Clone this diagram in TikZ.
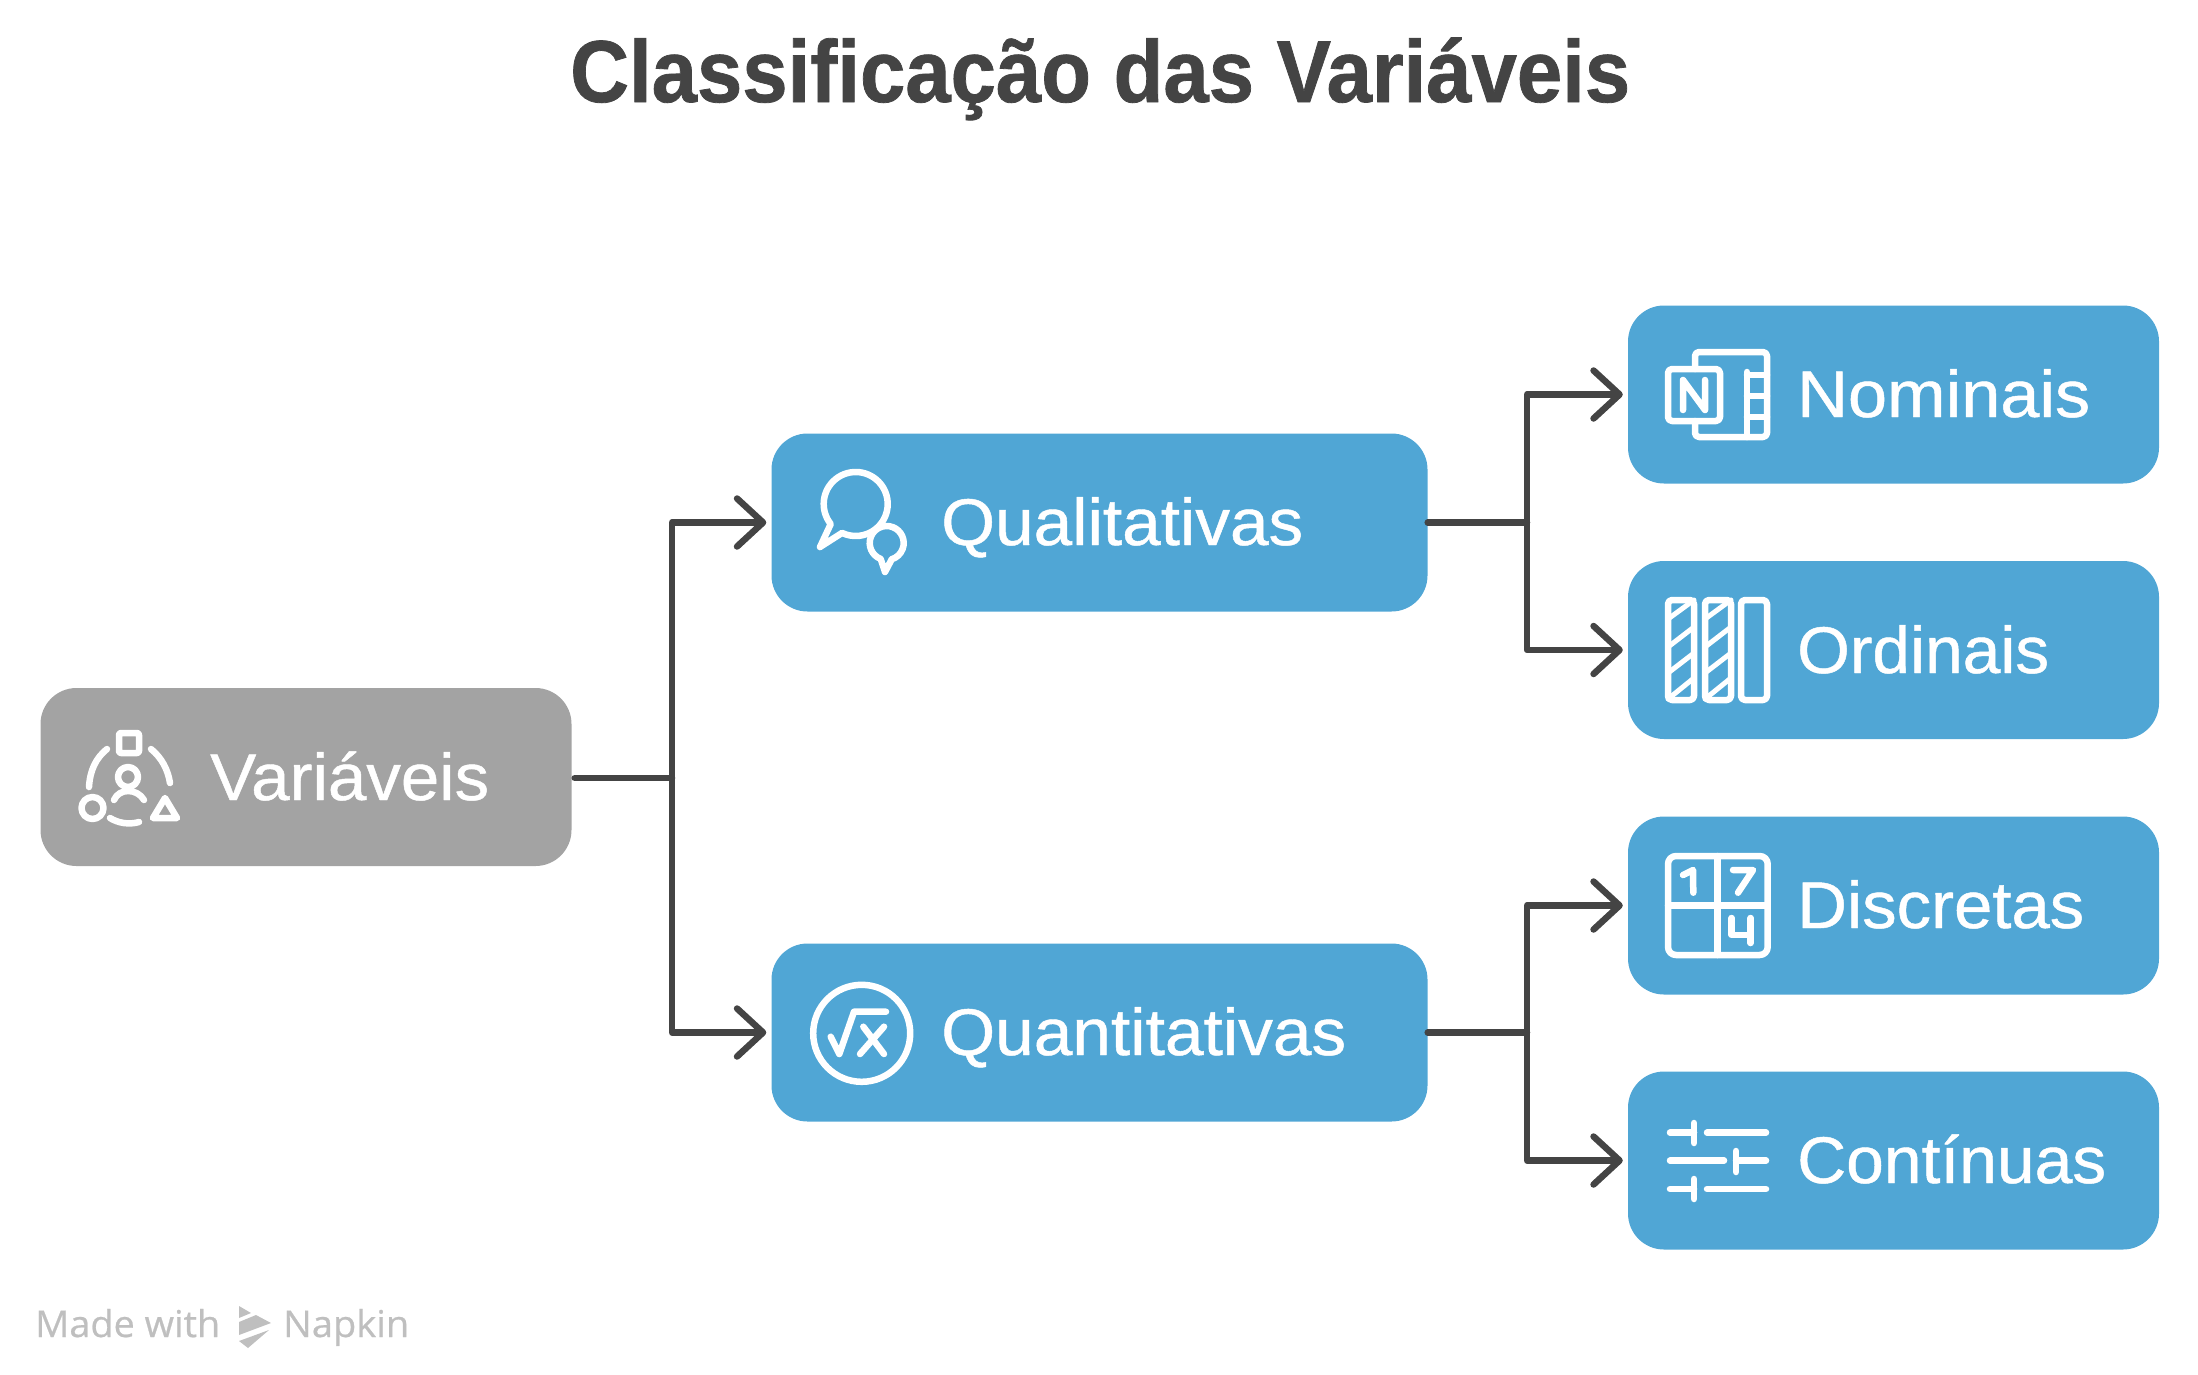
\documentclass[tikz,border=0pt]{standalone}
\usepackage{fontspec}
\usepackage{graphicx}
\usetikzlibrary{arrows.meta}
\setmainfont{Liberation Sans}
\newfontfamily\lblfont[FakeBold=0.7]{Liberation Sans}
\newfontfamily\titlefont[BoldFeatures={FakeBold=0.9}]{Liberation Sans}
\newfontfamily\footfont[FakeBold=0.6]{Open Sans}
\definecolor{boxblue}{HTML}{50A6D5}
\definecolor{boxgray}{HTML}{A3A3A3}
\definecolor{linecol}{HTML}{444444}
\definecolor{titlecol}{HTML}{444444}
\definecolor{footcol}{HTML}{BFBFBF}
\tikzset{
  boxnode/.style={draw=none,fill=#1,rounded corners=36pt,inner sep=0pt,minimum height=178pt},
  lbl/.style={anchor=base west,inner sep=0pt,text=white,font=\lblfont\fontsize{66}{70}\selectfont},
  conn/.style={draw=linecol,line width=6.5pt,line join=round,line cap=round},
  arr/.style={conn,-{Straight Barb[length=26pt,width=48pt,round]},shorten >=5pt},
  ico/.style={draw=white,line width=6.5pt,line cap=round,line join=round},
  foot/.style={anchor=base west,inner sep=0pt,text=footcol,font=\footfont\fontsize{37}{40}\selectfont}
}
\newcommand{\fitw}[2]{\resizebox{#1pt}{\height}{#2}}
\begin{document}
\begin{tikzpicture}[yscale=-1,x=1pt,y=1pt]
\useasboundingbox (0,0) rectangle (2198,1374);
% boxes
\node[boxnode=boxgray,minimum width=531pt] (var) at (306,777) {};
\node[boxnode=boxblue,minimum width=656pt] (qual) at (1099.5,522.5) {};
\node[boxnode=boxblue,minimum width=656pt] (quant) at (1099.5,1032.5) {};
\node[boxnode=boxblue,minimum width=531pt] (nom) at (1893.5,394.5) {};
\node[boxnode=boxblue,minimum width=531pt] (ord) at (1893.5,650) {};
\node[boxnode=boxblue,minimum width=531pt] (dis) at (1893.5,905.5) {};
\node[boxnode=boxblue,minimum width=531pt] (con) at (1893.5,1160.5) {};
% labels
\node[lbl] (tvar) at (210,800) {\fitw{279}{Variáveis}};
\node[lbl] (tqual) at (941,545) {\fitw{362}{Qualitativas}};
\node[lbl] (tquant) at (941,1055) {\fitw{405}{Quantitativas}};
\node[lbl] (tnom) at (1797,417) {\fitw{293}{Nominais}};
\node[lbl] (tord) at (1797,673) {\fitw{252}{Ordinais}};
\node[lbl] (tdis) at (1797,928) {\fitw{287}{Discretas}};
\node[lbl] (tcon) at (1797,1183) {\fitw{309}{Contínuas}};
% title
\node[anchor=base west,inner sep=0pt,text=titlecol,font=\titlefont\bfseries\fontsize{88}{92}\selectfont] (title) at (570,102) {\fitw{1060}{Classificação das Variáveis}};
% footer
\node[foot] (made) at (35,1337) {\fitw{185}{Made with}};
\node[foot] (nap) at (283,1337) {\fitw{126}{Napkin}};
\fill[footcol] (239,1306) -- (251,1313) -- (239,1318) -- cycle;
\fill[footcol] (239,1322) -- (256,1315) -- (271,1323) -- (239,1335) -- cycle;
\fill[footcol] (239,1341) -- (269,1330) -- (248,1348) -- cycle;
% connectors
\coordinate (j1) at (672,778);
\coordinate (j2) at (1527,522.5);
\coordinate (j3) at (1527,1032.5);
\draw[conn] (var.east) ++(3,1) -- (j1);
\draw[arr] (j1) |- (qual.west);
\draw[arr] (j1) |- (quant.west);
\draw[conn] (qual.east) -- (j2);
\draw[arr] (j2) |- (nom.west);
\draw[arr] (j2) |- (ord.west);
\draw[conn] (quant.east) -- (j3);
\draw[arr] (j3) |- (dis.west);
\draw[arr] (j3) |- (con.west);
% icon: variaveis
\draw[ico,rounded corners=2pt] (119,733) rectangle (139,753);
\draw[ico] (128,777) circle[radius=10pt];
\draw[ico] (114,800) .. controls (119,788) and (137,788) .. (144,800);
\draw[ico] (107,749) .. controls (96,758) and (90,770) .. (89,787);
\draw[ico] (151,749) .. controls (162,758) and (168,770) .. (170,783);
\draw[ico] (110,818) .. controls (118,823) and (129,825) .. (139,822);
\draw[ico] (92.5,808) circle[radius=11pt];
\draw[ico] (165,798) -- (153,818) -- (177,818) -- cycle;
% icon: qualitativas
\draw[ico] (855.7,504) ++(141.3:32pt) arc[start angle=141.3,end angle=475.3,radius=32pt] -- (820,547) -- cycle;
\draw[ico] (886.7,543) ++(110.8:17pt) arc[start angle=110.8,end angle=432.7,radius=17pt] -- (885,572) -- cycle;
% icon: quantitativas
\draw[ico] (861.7,1033.3) circle[radius=48.5pt];
\draw[ico] (830.7,1036.7) -- (839.3,1054) -- (854,1011.7) -- (886,1011.7);
\draw[ico] (863.3,1026.7) -- (884,1054);
\draw[ico] (884,1026.7) -- (860,1054);
% icon: nominais
\draw[ico,rounded corners=4pt] (1668,369) rectangle (1720,421);
\draw[ico,rounded corners=4pt] (1695,369) -- (1695,352) -- (1767,352) -- (1767,437) -- (1695,437) -- (1695,421);
\draw[ico] (1747,372) -- (1747,437);
\draw[ico] (1747,375) -- (1767,375);
\draw[ico] (1747,396) -- (1767,396);
\draw[ico] (1747,417) -- (1767,417);
\draw[ico] (1683,410) -- (1683,380) -- (1705,410) -- (1705,380);
% icon: ordinais
\draw[ico,rounded corners=4pt] (1668,600) rectangle (1694,700);
\draw[ico,rounded corners=4pt] (1705,600) rectangle (1731,700);
\draw[ico,rounded corners=4pt] (1741,600) rectangle (1767,700);
\foreach \ax in {1668,1705}{
  \draw[ico,line width=5pt] (\ax,619) -- (\ax+26,600);
  \draw[ico,line width=5pt] (\ax,647) -- (\ax+26,627);
  \draw[ico,line width=5pt] (\ax,673) -- (\ax+26,653);
  \draw[ico,line width=5pt] (\ax,699) -- (\ax+26,678);
}
% icon: discretas
\draw[ico,rounded corners=8pt] (1668,856) rectangle (1767.7,955);
\draw[ico] (1717.7,856) -- (1717.7,955);
\draw[ico] (1668,905.7) -- (1767.7,905.7);
\draw[ico] (1683,875) -- (1693,870) -- (1693.3,892.7);
\draw[ico] (1733,870) -- (1753,870) -- (1738,892.7);
\draw[ico] (1731.7,918) -- (1731.7,935) -- (1750.7,935);
\draw[ico] (1750.7,918) -- (1750.7,943);
% icon: continuas
\draw[ico] (1670,1132.7) -- (1694,1132.7);
\draw[ico] (1694,1123) -- (1694,1143);
\draw[ico] (1707,1132.7) -- (1766,1132.7);
\draw[ico] (1670,1160.7) -- (1724,1160.7);
\draw[ico] (1736,1151) -- (1736,1172);
\draw[ico] (1736,1160.7) -- (1766,1160.7);
\draw[ico] (1670,1189) -- (1694,1189);
\draw[ico] (1694,1179) -- (1694,1199);
\draw[ico] (1707,1189) -- (1766,1189);
\end{tikzpicture}
\end{document}
